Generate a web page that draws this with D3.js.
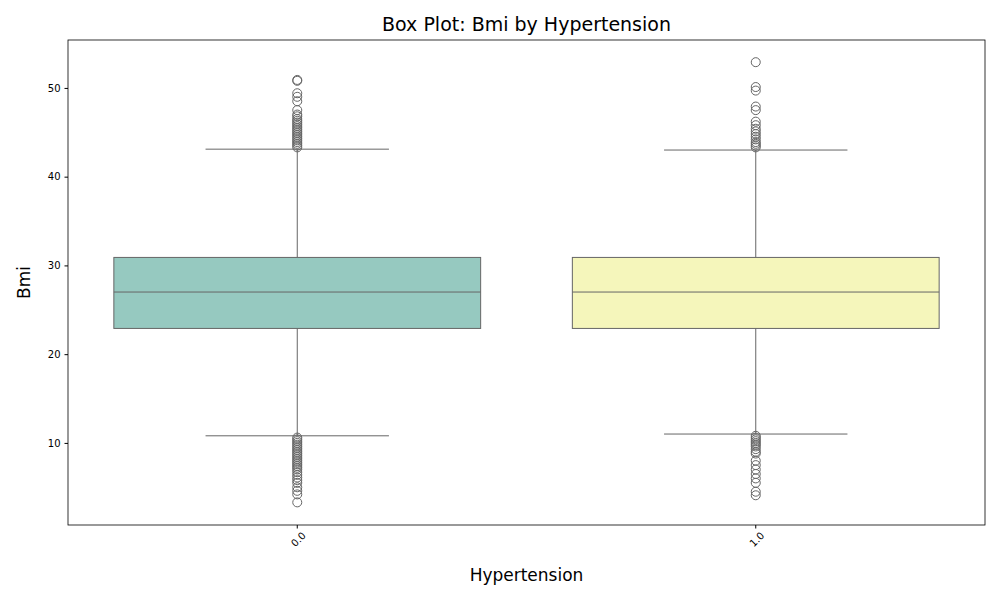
<!DOCTYPE html>
<html><head><meta charset="utf-8">
<script src="https://cdn.jsdelivr.net/npm/d3@7"></script>
<style>body{margin:0;background:#fff;font-family:"DejaVu Sans",sans-serif;}</style>
</head><body><svg id="c" width="1000" height="600"></svg>
<script>
var categories = ["0.0", "1.0"];
var q1 = [22.9, 22.9];
var medians = [27.0, 27.0];
var q3 = [30.9, 30.9];
var whiskLow = [10.8, 11.0];
var whiskHigh = [43.1, 43.0];
var colors = ["#96c9c0", "#f5f6bb"];
var outliers0 = [43.3, 43.5, 43.7, 43.9, 44.1, 44.3, 44.5, 44.7, 44.9, 45.1, 45.3, 45.5, 45.7, 45.9, 46.1, 46.3, 46.5, 46.8, 47.0, 47.5, 48.5, 49.0, 49.4, 50.8, 50.9,
  10.6, 10.4, 10.2, 10.0, 9.8, 9.6, 9.4, 9.2, 9.0, 8.8, 8.6, 8.4, 8.2, 8.0, 7.8, 7.6, 7.4, 7.2, 7.0, 6.7, 6.4, 6.1, 5.8, 5.5, 5.0, 4.6, 4.2, 3.3];
var outliers1 = [43.3, 43.5, 43.7, 43.9, 44.2, 44.5, 44.8, 45.1, 45.4, 45.8, 46.2, 47.5, 47.9, 49.7, 50.1, 52.9,
  10.8, 10.6, 10.4, 10.2, 10.0, 9.8, 9.6, 9.3, 9.0, 8.8, 8.0, 7.5, 7.0, 6.5, 6.0, 5.5, 4.5, 4.1];
var outliers = [outliers0, outliers1];
var yTicks = [10, 20, 30, 40, 50];

var svg = d3.select("#c");
var m = {l: 68, r: 15, t: 40, b: 75};
var W = 1000, H = 600;
var x = d3.scaleBand().domain(categories).range([m.l, W - m.r]).paddingInner(0).paddingOuter(0);
var y = d3.scaleLinear().domain([0.75, 55.4]).range([H - m.b, m.t]);

var g = svg.append("g");
categories.forEach(function (c, i) {
  var cx = x(c) + x.bandwidth() / 2, bw = x.bandwidth() * 0.8;
  g.append("line").attr("x1", cx).attr("x2", cx).attr("y1", y(whiskHigh[i])).attr("y2", y(q3[i])).attr("stroke", "#666");
  g.append("line").attr("x1", cx).attr("x2", cx).attr("y1", y(whiskLow[i])).attr("y2", y(q1[i])).attr("stroke", "#666");
  [whiskLow[i], whiskHigh[i]].forEach(function (v) {
    g.append("line").attr("x1", cx - bw / 4).attr("x2", cx + bw / 4).attr("y1", y(v)).attr("y2", y(v)).attr("stroke", "#666");
  });
  g.append("rect").attr("x", cx - bw / 2).attr("width", bw).attr("y", y(q3[i])).attr("height", y(q1[i]) - y(q3[i]))
    .attr("fill", colors[i]).attr("stroke", "#666");
  g.append("line").attr("x1", cx - bw / 2).attr("x2", cx + bw / 2).attr("y1", y(medians[i])).attr("y2", y(medians[i])).attr("stroke", "#666");
  g.selectAll(null).data(outliers[i]).enter().append("circle")
    .attr("cx", cx).attr("cy", function (d) { return y(d); }).attr("r", 4.5)
    .attr("fill", "none").attr("stroke", "#666");
});

svg.append("rect").attr("x", m.l).attr("y", m.t).attr("width", W - m.l - m.r).attr("height", H - m.t - m.b)
  .attr("fill", "none").attr("stroke", "#000").attr("stroke-width", 0.8);

var ya = svg.append("g").attr("transform", "translate(" + m.l + ",0)").call(d3.axisLeft(y).tickValues(yTicks).tickSize(3.5).tickPadding(4));
ya.select(".domain").remove();
ya.selectAll("text").attr("font-size", 10).attr("fill", "#000").attr("font-family", "DejaVu Sans");
var xa = svg.append("g").attr("transform", "translate(0," + (H - m.b) + ")").call(d3.axisBottom(x).tickSize(3.5));
xa.select(".domain").remove();
xa.selectAll("text").attr("font-size", 10).attr("fill", "#000").attr("font-family", "DejaVu Sans")
  .attr("text-anchor", "end").attr("transform", "translate(4,6) rotate(-45)").attr("dy", "0.35em").attr("y", 4);

svg.append("text").attr("x", (m.l + W - m.r) / 2).attr("y", 31).attr("text-anchor", "middle").attr("font-size", 19).text("Box Plot: Bmi by Hypertension");
svg.append("text").attr("x", (m.l + W - m.r) / 2).attr("y", 581).attr("text-anchor", "middle").attr("font-size", 17).text("Hypertension");
svg.append("text").attr("transform", "translate(30," + ((m.t + H - m.b) / 2) + ") rotate(-90)").attr("text-anchor", "middle").attr("font-size", 17).text("Bmi");
</script></body></html>
